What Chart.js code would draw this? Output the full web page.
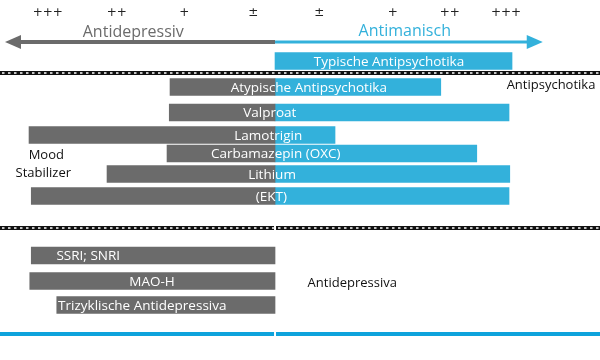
<!DOCTYPE html>
<html>
<head>
<meta charset="utf-8">
<script src="https://cdn.jsdelivr.net/npm/chart.js@4"></script>
<style>
  body { margin: 0; background: #fff; }
  canvas { display: block; }
</style>
</head>
<body>
<canvas id="chart" width="600" height="360"></canvas>
<script>
// Wirkprofil: links antidepressiv (grau), rechts antimanisch (blau)
const drugs = ['Typische Antipsychotika', 'Atypische Antipsychotika', 'Valproat', 'Lamotrigin',
    'Carbamazepin (OXC)', 'Lithium', '(EKT)', 'SSRI; SNRI', 'MAO-H', 'Trizyklische Antidepressiva'];
const antidepressiv = [null, -1.40, -1.41, -3.28, -1.44, -2.24, -3.25, -3.25, -3.27, -2.91];
const antimanisch = [3.16, 2.21, 3.12, 0.80, 2.69, 3.13, 3.12, null, null, null];
const rows = [6.1, 8.7, 11.25, 13.5, 15.35, 17.4, 19.6, 25.55, 28.1, 30.5];
const labelAt = [1.52, 0.45, -0.07, -0.09, 0.01, -0.04, -0.05, -2.49, -1.64, -1.77];

const tickValues = [-3.03, -2.11, -1.21, -0.29, 0.59, 1.57, 2.33, 3.08];
const tickLabels = ['+++', '++', '+', '±', '±', '+', '++', '+++'];

const grey = '#6b6b6b';
const blue = '#33b1db';
const font = '"Open Sans", sans-serif';

Chart.defaults.font.family = font;

const overlay = {
    id: 'overlay',
    beforeDatasetsDraw(chart) {
        const ctx = chart.ctx;
        const x = chart.scales.x, y = chart.scales.y;
        const x0 = x.getPixelForValue(0);
        ctx.save();

        // Pfeile
        const ay = y.getPixelForValue(4.2);
        const lt = x.getPixelForValue(-3.6), rt = x.getPixelForValue(3.57);
        ctx.fillStyle = grey;
        ctx.fillRect(lt + 12, ay - 2, x0 - lt - 12, 4);
        ctx.beginPath();
        ctx.moveTo(lt, ay); ctx.lineTo(lt + 16, ay - 7); ctx.lineTo(lt + 16, ay + 7); ctx.closePath();
        ctx.fill();
        ctx.fillStyle = blue;
        ctx.fillRect(x0, ay - 1.5, rt - x0 - 12, 3);
        ctx.beginPath();
        ctx.moveTo(rt, ay); ctx.lineTo(rt - 16, ay - 7); ctx.lineTo(rt - 16, ay + 7); ctx.closePath();
        ctx.fill();

        // gepunktete Trenner
        const dotted = (yy, x1, x2) => {
            ctx.setLineDash([]);
            ctx.strokeStyle = '#111'; ctx.lineWidth = 4;
            ctx.beginPath(); ctx.moveTo(x1, yy); ctx.lineTo(x2, yy); ctx.stroke();
            ctx.setLineDash([2.5, 3.5]);
            ctx.strokeStyle = '#fff'; ctx.lineWidth = 1.6;
            ctx.beginPath(); ctx.moveTo(x1 + 2, yy); ctx.lineTo(x2, yy); ctx.stroke();
            ctx.setLineDash([]);
        };
        dotted(y.getPixelForValue(7.3), 0, chart.width);
        const d2 = y.getPixelForValue(22.8);
        dotted(d2, 0, x0 - 1);
        dotted(d2, x0 + 1, chart.width);

        // blaue Grundlinie
        const by = y.getPixelForValue(33.4);
        ctx.fillStyle = '#0ea3dc';
        ctx.fillRect(0, by - 2, x0 - 1, 4);
        ctx.fillRect(x0 + 1, by - 2, chart.width - x0 - 1, 4);

        // Beschriftungen
        ctx.textAlign = 'center';
        ctx.textBaseline = 'middle';
        ctx.font = '16px ' + font;
        ctx.fillStyle = grey;
        ctx.fillText('Antidepressiv', x.getPixelForValue(-1.89), y.getPixelForValue(3.2));
        ctx.fillStyle = blue;
        ctx.fillText('Antimanisch', x.getPixelForValue(1.73), y.getPixelForValue(3.1));
        ctx.font = '13px ' + font;
        ctx.fillStyle = '#111';
        ctx.fillText('Antipsychotika', x.getPixelForValue(3.68), y.getPixelForValue(8.5));
        ctx.fillText('Mood', x.getPixelForValue(-3.05), y.getPixelForValue(15.5));
        ctx.fillText('Stabilizer', x.getPixelForValue(-3.09), y.getPixelForValue(17.3));
        ctx.fillText('Antidepressiva', x.getPixelForValue(1.03), y.getPixelForValue(28.3));
        ctx.restore();
    },
    afterDatasetsDraw(chart) {
        const ctx = chart.ctx;
        const x = chart.scales.x, y = chart.scales.y;
        ctx.save();
        ctx.font = '13.5px ' + font;
        ctx.fillStyle = '#fff';
        ctx.textAlign = 'center';
        ctx.textBaseline = 'middle';
        drugs.forEach((d, i) => {
            ctx.fillText(d, x.getPixelForValue(labelAt[i]), y.getPixelForValue(rows[i]) + 1);
        });
        ctx.restore();
    }
};

const greyData = [];
const blueData = [];
drugs.forEach((_, i) => {
    if (antidepressiv[i] !== null) greyData.push({ x: [antidepressiv[i], 0], y: rows[i] });
    if (antimanisch[i] !== null) blueData.push({ x: [0, antimanisch[i]], y: rows[i] });
});

const ctx = document.getElementById('chart').getContext('2d');
new Chart(ctx, {
    type: 'bar',
    data: {
        datasets: [{
            label: 'Antidepressiv',
            data: greyData,
            backgroundColor: grey
        }, {
            label: 'Antimanisch',
            data: blueData,
            backgroundColor: blue
        }]
    },
    options: {
        indexAxis: 'y',
        responsive: false,
        animation: false,
        grouped: false,
        barThickness: 17,
        layout: { padding: 0 },
        plugins: { legend: { display: false }, tooltip: { enabled: false } },
        scales: {
            x: {
                type: 'linear',
                position: 'top',
                min: -3.667,
                max: 4.333,
                grid: { display: false, drawTicks: false },
                border: { display: false },
                afterBuildTicks: axis => { axis.ticks = tickValues.map(v => ({ value: v })); },
                afterFit: axis => { axis.height = 24; },
                ticks: {
                    autoSkip: false,
                    maxRotation: 0,
                    padding: 4,
                    color: '#222',
                    font: { family: '"DejaVu Sans", sans-serif', size: 12 },
                    callback: (v, i) => tickLabels[i]
                }
            },
            y: {
                type: 'linear',
                min: 2.4,
                max: 36,
                reverse: true,
                offset: false,
                display: false
            }
        }
    },
    plugins: [overlay]
});
</script>
</body>
</html>
